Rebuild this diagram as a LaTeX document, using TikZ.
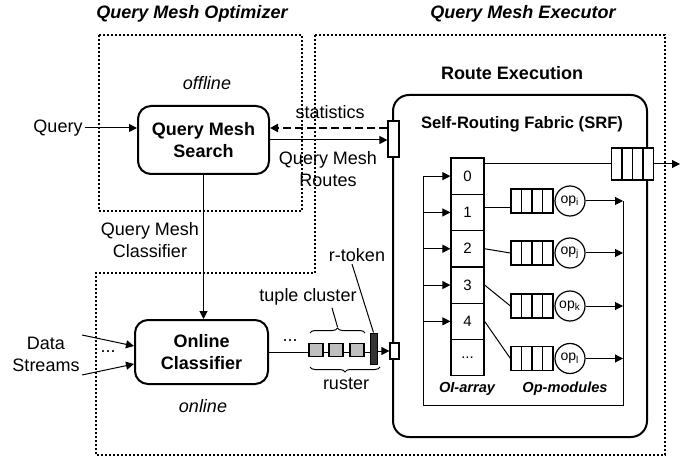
\documentclass[tikz,border=0pt]{standalone}
\usepackage{fontspec}
\setmainfont{Liberation Sans}
\usetikzlibrary{decorations.pathreplacing,arrows.meta}

\begin{document}
\begin{tikzpicture}[x=0.5pt, y=-0.5pt, >={Triangle[length=4pt,width=4pt]}, line width=0.5pt, font=\fontsize{9}{11}\selectfont]
			\tikzstyle{txt}=[inner sep=1pt, align=center]
			\tikzstyle{title}=[txt, font=\fontsize{9}{11}\selectfont\bfseries\itshape]
			\tikzstyle{module}=[draw, rounded corners=6.5pt, line width=1pt, align=center, font=\fontsize{9}{11}\selectfont\bfseries]
			\tikzstyle{zone}=[line width=1pt, dash pattern=on 1pt off 1pt]
			\tikzstyle{port}=[draw, fill=white, inner sep=0pt, line width=0.6pt]
			\tikzstyle{slot}=[draw, line width=0.6pt, minimum width=16.5pt, minimum height=18.15pt, inner sep=0pt, font=\fontsize{7.5}{9}\selectfont]
			\tikzstyle{queue}=[draw, fill=white, line width=0.6pt, inner sep=0pt, minimum width=21pt, minimum height=12pt,
				path picture={\foreach \k in {1,2,3} \draw ([xshift=\k*5.25pt]path picture bounding box.south west) -- ([xshift=\k*5.25pt]path picture bounding box.north west);}]
			\tikzstyle{op}=[draw, circle, line width=0.6pt, minimum size=15pt, inner sep=0pt, font=\fontsize{7}{8}\selectfont]
			\tikzstyle{tuple}=[draw, fill=black!25, minimum width=7pt, minimum height=6.5pt, inner sep=0pt, line width=0.6pt]
			\useasboundingbox (0,0) rectangle (694,459);
			
			% offline and online regions
			\draw[zone] (99,35) rectangle (302,211);
			\draw[zone] (315,35) -- (665,35) -- (665,455) -- (96,455) -- (96,273) -- (315,273) -- cycle;
			\node[title](opt) at (192,14){Query Mesh Optimizer};
			\node[title](exe) at (523,14){Query Mesh Executor};
			\node[txt, font=\fontsize{9}{11}\selectfont\itshape](offline) at (207,83){offline};
			\node[txt, font=\fontsize{9}{11}\selectfont\itshape](online) at (203,406){online};
			
			\node[module, minimum width=65.5pt, minimum height=34pt](qms) at (203.5,140){Query Mesh\\Search};
			\node[module, minimum width=66.5pt, minimum height=32pt](oc) at (201.5,352){Online\\Classifier};
			
			\node[draw, rounded corners=8pt, line width=1pt, minimum width=127pt, minimum height=171pt](srf) at (520,266){};
			\node[txt, font=\fontsize{9}{11}\selectfont\bfseries](route) at (512,73){Route Execution};
			\node[txt, font=\fontsize{8.3}{10}\selectfont\bfseries](srf-title) at (522,124){Self-Routing Fabric (SRF)};
			\node[port, minimum width=5.5pt, minimum height=18pt](in-port) at (393.5,139){};
			\node[port, minimum width=4.5pt, minimum height=8pt](data-port) at (394.5,351){};
			
			\node[txt](query) at (58,128){Query};
			\node[txt](stat) at (330,112){statistics};
			\node[txt](routes) at (328,169){Query Mesh\\Routes};
			\node[txt](qmc) at (150,240){Query Mesh\\Classifier};
			\node[txt](streams) at (46,354){Data\\Streams};
			\node[txt](dots-in) at (108,352){...};
			\node[txt](dots-out) at (290,341){...};
			\coordinate (ds-1) at (82,335);
			\coordinate (ds-2) at (82,375);
			
			\draw[->] (query) -- (query -| qms.west);
			\draw[->, line width=1pt, dash pattern=on 4pt off 2pt] ([yshift=5.5pt]in-port.west) -- ([yshift=5.5pt]in-port.west -| qms.east);
			\draw[->] (qms.east) -- (qms.east -| in-port.west);
			\draw[->] (qms.south) -- (qms.south |- oc.north);
			\draw[->] (ds-1) -- ([yshift=3pt]oc.west);
			\draw[->] (ds-2) -- ([yshift=-6pt]oc.west);
			
			% ruster: tuple cluster followed by the r-token
			\foreach \x [count=\i] in {316,336,357}
			\node[tuple](t\i) at (\x,350){};
			\node[draw, fill=black!80, minimum width=3.5pt, minimum height=15.5pt, inner sep=0pt](rtok) at (373.5,348.5){};
			\draw (oc.east) -- (oc.east -| t1.west);
			\foreach \a/\b in {t1/t2,t2/t3,t3/rtok}
			\draw (\a.east |- oc.east) -- (\b.west |- oc.east);
			\draw[->] (rtok.east |- data-port) -- (data-port.west);
			
			\draw[decorate, decoration={brace, amplitude=2.5pt}] (310,333) -- (365,333);
			\draw[decorate, decoration={brace, amplitude=2.5pt}] (380,367) -- (310,367);
			\coordinate (tc-tip) at (337.5,327);
			\node[txt](tc) at (308,297){tuple cluster};
			\node[txt](rt) at (357,255){r-token};
			\node[txt](ruster) at (346,384){ruster};
			\draw ([xshift=12pt]tc.south) -- (tc-tip);
			\draw ([xshift=-2.5pt]rt.south) -- (rtok.north);
			
			% OI-array and operator modules
			\foreach \i in {0,...,4}
			\node[slot](c\i) at (467.5,{176.15+\i*36.3}){\i};
			\node[slot](c5) at (467.5,357.65){...};
			\node[txt, font=\fontsize{7.3}{9}\selectfont\bfseries\itshape](oi) at (467,389){OI-array};
			\node[txt, font=\fontsize{7.3}{9}\selectfont\bfseries\itshape](opm) at (565,389){Op-modules};
			
			\coordinate (loop-bl) at (423,405);
			\coordinate (loop-br) at (623,405);
			\foreach \i/\y/\s in {1/201/i,2/253/j,3/306/k,4/358.5/l}{
				\node[queue](q\i) at (532,\y){};
				\node[op](op\i) at (570,\y){op\textsubscript{\s}};
				\draw[->] (op\i.east) -- (op\i.east -| loop-br);
			}
			\draw (c0.west -| loop-bl) -- (loop-bl) -- (loop-br) -- (loop-br |- op1.east);
			\foreach \i in {0,...,4}
			\draw[->] (c\i.west -| loop-bl) -- (c\i.west);
			\draw ([yshift=2.7pt]c1.east) -- ([yshift=2.7pt]c1.east -| q1.west);
			\foreach \i in {2,3,4}
			\draw (c\i.east) -- (q\i.west);
			
			\node[queue, minimum height=16pt](qout) at (632.5,164){};
			\coordinate (out) at (680,164);
			\draw (qout.west) -- (qout.west -| c0.east);
			\draw[->] (qout.east) -- (out);
\end{tikzpicture}
\end{document}
